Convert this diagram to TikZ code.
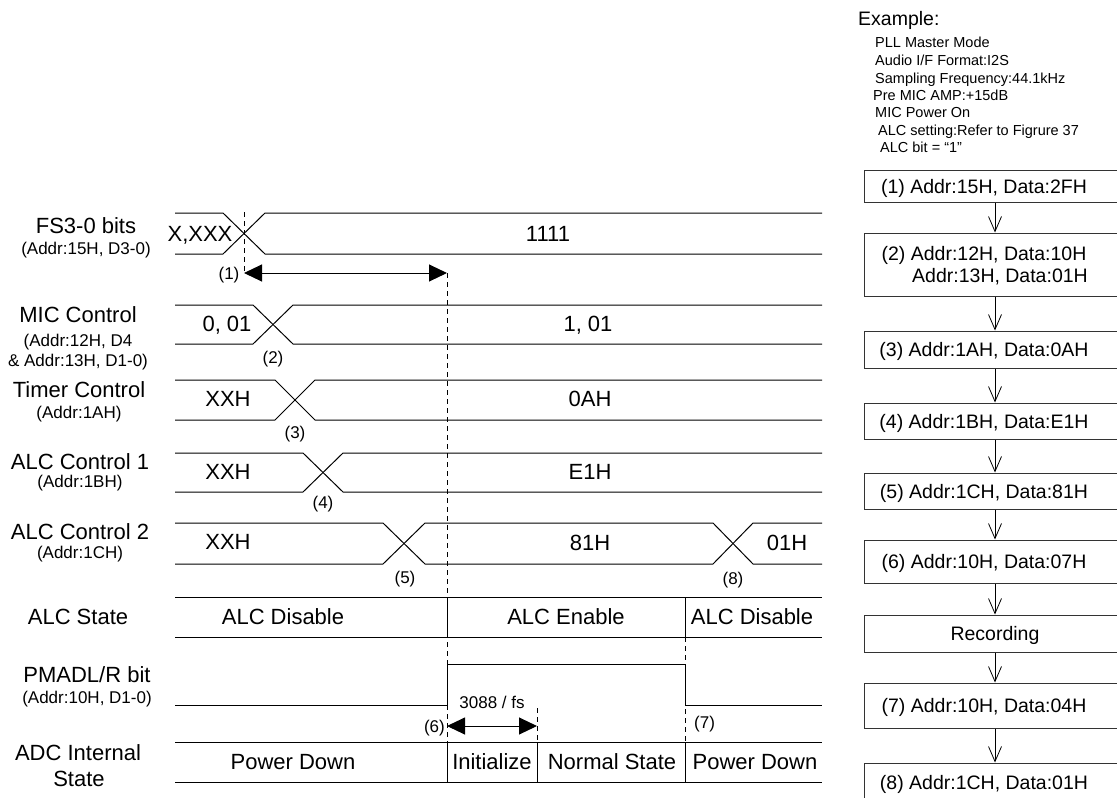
\documentclass[tikz,border=0pt]{standalone}
\usepackage{fontspec}
\setmainfont{Liberation Sans}
\usetikzlibrary{arrows.meta}
\newcommand\busx[4]{%
  \draw[wave] (175,#1) -- (#3,#1) -- (#4,#2) -- (822,#2);
  \draw[wave] (175,#2) -- (#3,#2) -- (#4,#1) -- (822,#1);}
\begin{document}
\begin{tikzpicture}[x=1pt,y=-1pt,
  wave/.style={line width=1pt},
  dsh/.style={line width=0.9pt, dash pattern=on 5pt off 4pt},
  big/.style={font=\fontsize{22}{26}\selectfont, inner sep=0pt, text height=15.75pt, text depth=0pt},
  sm/.style={font=\fontsize{17}{20}\selectfont, inner sep=0pt, text height=12.2pt, text depth=0pt},
  exh/.style={font=\fontsize{19.5}{23}\selectfont, anchor=west, inner sep=0pt, text height=14pt, text depth=0pt},
  ex/.style={font=\fontsize{14.5}{17}\selectfont, anchor=west, inner sep=0pt, text height=10.4pt, text depth=0pt},
  bx/.style={draw=black!80, line width=1pt, minimum width=262pt, inner sep=0pt},
  bt/.style={font=\fontsize{19.5}{23}\selectfont, inner sep=0pt, text height=14pt, text depth=0pt},
  flow/.style={line width=0.8pt, -{Straight Barb[length=15pt,width=13pt]}},
  tarr/.style={line width=1pt, {Triangle[length=18pt,width=17pt]}-{Triangle[length=18pt,width=17pt]}}
]
\useasboundingbox (0,0) rectangle (1117,798);
\clip (0,0) rectangle (1117,798);

% ---------- left labels ----------
\node[big] (lfs) at (86,226) {FS3-0 bits};
\node[sm]  (lfsa) at (86,248) {(Addr:15H, D3-0)};
\node[big] (lmic) at (78,315) {MIC Control};
\node[sm]  (lmica) at (78,340) {(Addr:12H, D4};
\node[sm]  (lmicb) at (78,360) {\& Addr:13H, D1-0)};
\node[big] (ltim) at (79,390) {Timer Control};
\node[sm]  (ltima) at (79,412) {(Addr:1AH)};
\node[big] (la1) at (80,462) {ALC Control 1};
\node[sm]  (la1a) at (80,481) {(Addr:1BH)};
\node[big] (la2) at (80,532) {ALC Control 2};
\node[sm]  (la2a) at (80,552) {(Addr:1CH)};
\node[big] (lst) at (78,617) {ALC State};
\node[big] (lpm) at (87,675) {PMADL/R bit};
\node[sm]  (lpma) at (87,697) {(Addr:10H, D1-0)};
\node[big] (ladc) at (78,753) {ADC Internal};
\node[big] (ladcb) at (79,779) {State};

% ---------- bus rows ----------
\busx{213}{254}{223}{265}
\busx{305}{344}{253}{293}
\busx{380}{420}{275}{315}
\busx{453}{492}{303}{343}
\draw[wave] (175,523) -- (383,523) -- (425,564) -- (713,564) -- (753,523) -- (822,523);
\draw[wave] (175,564) -- (383,564) -- (425,523) -- (713,523) -- (753,564) -- (822,564);

\node[big] (vfs0) at (200,234) {X,XXX};
\node[big] (vfs1) at (548,234) {1111};
\node[big] (vmic0) at (227,324) {0, 01};
\node[big] (vmic1) at (588,324) {1, 01};
\node[big] (vtim0) at (228,399) {XXH};
\node[big] (vtim1) at (590,399) {0AH};
\node[big] (va10) at (228,472) {XXH};
\node[big] (va11) at (590,472) {E1H};
\node[big] (va20) at (228,542) {XXH};
\node[big] (va21) at (590,543) {81H};
\node[big] (va22) at (787,543) {01H};

\node[sm] (n2) at (273,357) {(2)};
\node[sm] (n3) at (295,432) {(3)};
\node[sm] (n4) at (323,502) {(4)};
\node[sm] (n5) at (405,577) {(5)};
\node[sm] (n8) at (733,578) {(8)};

% ---------- ALC state ----------
\draw[wave] (175,597) -- (822,597);
\draw[wave] (175,637) -- (822,637);
\node[big] (s1) at (283,617) {ALC Disable};
\node[big] (s2) at (566,617) {ALC Enable};
\node[big] (s3) at (752,617) {ALC Disable};

% ---------- PMADL ----------
\draw[wave] (175,705) -- (447,705) -- (447,664) -- (685,664) -- (685,705) -- (822,705);

% ---------- ADC state ----------
\draw[wave] (175,742) -- (822,742);
\draw[wave] (175,782) -- (822,782);
\node[big] (d1) at (293,762) {Power Down};
\node[big] (d2) at (492,762) {Initialize};
\node[big] (d3) at (612,762) {Normal State};
\node[big] (d4) at (755,762) {Power Down};

% ---------- markers ----------
\coordinate (m1t) at (244,212);
\coordinate (m1) at (244,273);
\coordinate (m6a) at (447,273);
\coordinate (m6b) at (447,742);
\coordinate (m6c) at (447,782);
\coordinate (m6s) at (447,597);
\coordinate (m6e) at (447,637);
\coordinate (m6) at (447,726);
\coordinate (m7a) at (685,637);
\coordinate (m7b) at (685,742);
\coordinate (m7c) at (685,782);
\coordinate (m7s) at (685,597);
\coordinate (mia) at (537,708);
\coordinate (mib) at (537,742);
\coordinate (mic) at (537,782);
\coordinate (mi) at (537,726);

\draw[dsh] (m1t) -- (m1);
\draw[dsh] (m6a) -- (m6b);
\draw[dsh] (m7a) -- (m7b);
\draw[dsh] (mia) -- (mib);
\draw[wave] (m6s) -- (m6e);
\draw[wave] (m7s) -- (m7a);
\draw[wave] (m6b) -- (m6c);
\draw[wave] (mib) -- (mic);
\draw[wave] (m7b) -- (m7c);

\draw[tarr] (m1) -- (m6a);
\draw[tarr] (m6) -- (mi);
\node[sm] (n1) at (229,273) {(1)};
\node[sm, anchor=east] (n6) at (445,726) {(6)};
\node[sm, anchor=west] (n7) at (694,722) {(7)};
\node[sm] (t3088) at (492,702) {3088 / fs};

% ---------- example text ----------
\node[exh] (exa) at (858,18) {Example:};
\node[ex] (e1) at (875,42) {PLL Master Mode};
\node[ex] (e2) at (875,60) {Audio I/F Format:I2S};
\node[ex] (e3) at (875,78) {Sampling Frequency:44.1kHz};
\node[ex] (e4) at (873,95) {Pre MIC AMP:+15dB};
\node[ex] (e5) at (875,112) {MIC Power On};
\node[ex] (e6) at (878,130) {ALC setting:Refer to Figrure 37};
\node[ex] (e7) at (880,147) {ALC bit = “1”};

% ---------- flow boxes ----------
\node[bx, minimum height=32pt] (b1) at (995,186) {};
\node[bx, minimum height=63pt] (b2) at (995,264.5) {};
\node[bx, minimum height=37pt] (b3) at (995,349.5) {};
\node[bx, minimum height=36pt] (b4) at (995,421) {};
\node[bx, minimum height=36pt] (b5) at (995,491) {};
\node[bx, minimum height=43pt] (b6) at (995,561.5) {};
\node[bx, minimum height=37pt] (br) at (995,633.5) {};
\node[bx, minimum height=45pt] (b7) at (995,705.5) {};
\node[bx, minimum height=50pt] (b8) at (995,788) {};

\node[bt] (t1) at (984,186) {(1) Addr:15H, Data:2FH};
\node[bt] (t2a) at (984,253) {(2) Addr:12H, Data:10H};
\node[bt, anchor=east] (t2b) at (1088,275) {Addr:13H, Data:01H};
\node[bt] (t3) at (984,349.5) {(3) Addr:1AH, Data:0AH};
\node[bt] (t4) at (984,421) {(4) Addr:1BH, Data:E1H};
\node[bt] (t5) at (984,491) {(5) Addr:1CH, Data:81H};
\node[bt] (t6) at (984,561.5) {(6) Addr:10H, Data:07H};
\node[bt] (tr) at (995,633.5) {Recording};
\node[bt] (t7) at (984,705.5) {(7) Addr:10H, Data:04H};
\node[bt] (t8) at (984,782) {(8) Addr:1CH, Data:01H};

\draw[flow] (b1.south) -- (b2.north);
\draw[flow] (b2.south) -- (b3.north);
\draw[flow] (b3.south) -- (b4.north);
\draw[flow] (b4.south) -- (b5.north);
\draw[flow] (b5.south) -- (b6.north);
\draw[flow] (b6.south) -- (br.north);
\draw[flow] (br.south) -- (b7.north);
\draw[flow] (b7.south) -- (b8.north);
\end{tikzpicture}
\end{document}
